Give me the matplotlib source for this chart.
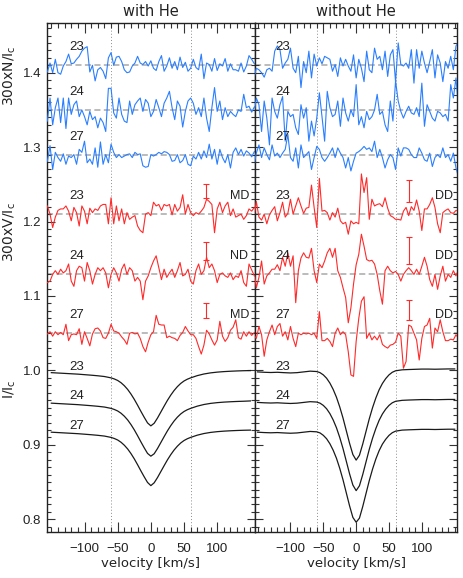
import numpy as np
import matplotlib
matplotlib.use("Agg")
import matplotlib.pyplot as plt
from matplotlib.ticker import FixedLocator, MultipleLocator, FormatStrFormatter

plt.rcParams['mathtext.default'] = 'regular'

# ---------------- data ----------------
# velocity grid of the Stokes N / V profiles [km/s]
vel = np.arange(-156, 157, 4)

# 300xN/Ic profiles (units of 1e-3), shifted by offsets below
n23_with = [-9,3,-10,8,-10,-12,-1,5,15,2, 3,8,12,19,23,25,-9,0,-21,-6, -3,-8,-18,10,17,0,11,12,5,-6,
            -10,-9,-1,3,12,3,1,5,-1,6, -4,-7,5,13,-8,-1,10,-4,5,-6, 11,-3,4,-8,-4,8,-3,-6,15,-18,
            3,1,-8,9,-7,2,-1,9,-8,2, -6,-6,-8,3,-9,-1,13,8,2]
n24_with = [-15,16,-20,3,16,-17,16,-25,16,-6, 7,12,-9,0,-9,-20,-2,-13,-9,-24, -11,-17,-29,29,29,-4,-11,16,-6,-15,
            -17,12,-6,7,12,16,-2,14,9,-9, -2,14,3,-9,9,16,25,3,-13,12, 5,-23,-2,12,16,9,-6,3,-9,16,
            -11,-29,3,30,-2,12,-13,3,-9,-2, -6,-9,0,-2,21,3,5,-3,4]
n27_with = [-9,12,-20,3,-4,-9,1,-13,-2,-4, 0,-13,7,3,18,-11,-6,-13,9,-17, 17,-13,0,-11,14,3,-4,0,-4,-2,
            0,1,-4,3,0,1,-15,-17,-16,0, -2,0,3,1,4,3,0,-9,-8,0, -11,-8,0,-13,-15,-2,-6,3,-6,5,
            -4,14,-6,7,-13,7,-4,-11,0,-18, 3,9,0,7,-2,5,2,-3,4]
n23_wo = [-19,-4,-6,-10,-16,-6,-4,-8,19,26, 21,-4,3,8,23,-4,-10,12,-30,5, -10,19,-17,15,-1,10,2,12,10,8,
          -8,1,-15,10,-1,8,-1,-8,14,-17, 8,-4,-22,19,-6,-10,23,8,12,-6, 19,-15,14,21,-22,30,1,-1,3,-4,
          21,-24,21,-4,19,3,-10,5,21,-17, 14,3,-22,5,-4,12,-6,26,32]
n24_wo = [-9,16,7,-29,12,-11,-47,16,-2,-11, 7,18,-42,-2,-9,-6,-24,-33,7,-11, 3,-42,-15,-35,-11,23,-9,-42,25,3,
          -9,-6,12,-22,16,-4,-15,0,-9,34, -20,-9,-24,-2,-13,-9,0,21,-6,-2, -20,-29,12,-15,39,12,-2,-11,-2,5,
          -4,-6,3,-9,36,-22,7,-2,-11,-15, -2,-4,-9,-6,-15,34,16,43,0]
n27_wo = [-18,2,13,-4,9,0,-7,13,-2,2, -4,2,7,27,-4,-9,9,-18,13,-4, 0,4,-20,-4,11,7,-4,-9,-4,2,
          9,-4,9,2,-4,-18,-4,-22,-9,2, 4,7,11,7,9,4,18,-4,7,-4, -18,-7,0,-4,-20,9,-2,9,9,7,
          0,-4,-4,9,2,-7,-9,2,-16,-4, 0,-4,9,-4,0,-9,2,-18,-31]

# 300xV/Ic profiles (units of 1e-3)
v23_with = [11,0,-18,-4,5,7,7,11,4,-9, 9,2,-16,11,4,-13,8,2,7,5, 11,13,13,-13,22,-13,11,-9,7,-13,
            2,-7,-4,-2,-16,-22,-25,0,2,-2, 16,11,13,5,13,11,13,-1,13,4, 9,26,0,13,2,-2,2,0,4,9,
            20,17,13,-25,7,16,2,11,16,-2, 7,-4,-2,0,-7,-2,7,4,9]
v24_with = [-12,-10,-1,4,-1,6,1,4,13,-10, -17,4,10,8,-10,15,4,-14,-1,8, 4,8,1,-19,-1,8,1,-10,6,13,
            -1,8,4,-10,-5,-10,-35,-10,-3,8, 17,24,8,-8,6,-5,1,6,-5,4, 15,-3,-1,6,-10,-14,4,13,-1,4,
            22,8,13,4,-12,-1,1,-3,-5,1, -8,-3,-5,4,-12,-17,13,5,-3]
v27_with = [-1,2,-4,2,-2,1,-2,12,-10,-2, -1,-2,6,-15,2,-7,-17,-1,6,7, 3,-6,-7,0,12,3,2,0,-5,-9,
            -15,0,1,-1,0,-7,-18,-25,-12,-2, 2,24,12,11,11,-6,-4,-6,-7,-10, -3,1,9,3,-2,-2,-7,-18,-28,-16,
            4,-1,-9,-16,-9,16,-4,-11,-6,4, 8,18,-6,-8,2,-4,2,-3,1]
v23_wo = [-7,17,-4,-8,0,-13,-1,5,10,-9, 2,16,-4,1,20,0,11,22,11,1, 8,9,39,9,-18,48,4,5,2,-8,
          2,-4,8,-9,-13,-11,-27,-9,-13,-11, -13,54,29,49,-7,20,11,13,14,10, 22,8,-2,-4,-7,-7,-8,4,9,-2,
          10,5,19,4,-22,7,7,13,22,9, -13,-25,2,5,7,2,1,5,4]
v24_wo = [8,-19,-5,17,-14,-3,1,6,6,12, 4,22,10,28,10,24,-39,4,21,28, 22,21,34,4,-12,13,8,17,28,34,
          22,34,4,-5,-19,-32,-66,-46,-14,12, 26,53,37,19,17,18,13,-1,-23,-41, 4,10,4,1,3,-1,-10,-1,4,8,
          4,-1,6,-1,10,22,10,-8,-17,-1, -21,-3,10,-10,-1,-5,4,-3,6]
v27_wo = [-2,-7,9,-2,-31,-9,2,11,-2,9, 13,-4,2,-9,9,-7,-18,0,-2,0, -1,0,-2,0,-7,29,-10,-10,-7,-11,
          -18,0,7,-2,2,-2,-25,-56,-58,-11, 20,43,49,-7,0,-9,-4,-9,-2,-15, -18,-20,-16,-15,-12,0,-4,-47,-38,11,
          9,0,-9,-36,-7,9,11,20,-20,7, 2,18,2,-10,-10,-8,-9,-2,-7]

n_offsets = [1.41, 1.35, 1.29]
v_offsets = [1.21, 1.13, 1.05]
epochs = ['23', '24', '27']
flags_with = ['MD', 'ND', 'MD']
flags_wo = ['DD', 'DD', 'DD']

# Stokes I profiles
vel_i = [-150,-140,-130,-120,-110,-100,-90,-80,-70,-60,-55,-50,-45,-40,-35,-30,-25,-20,-15,-10,-5,0,
         5,10,15,20,25,30,35,40,45,50,55,60,70,80,90,100,110,120,130,140,150]
i23_with = [0.9970,0.9965,0.9960,0.9955,0.9950,0.9943,0.9936,0.9928,0.9918,0.9900,0.9885,0.9865,0.9835,
            0.9795,0.9745,0.9683,0.9612,0.9533,0.9450,0.9370,0.9295,0.9255,0.9290,0.9360,0.9440,0.9520,
            0.9598,0.9668,0.9730,0.9782,0.9825,0.9858,0.9882,0.9900,0.9930,0.9952,0.9967,0.9977,0.9984,
            0.9989,0.9993,0.9996,0.9998]
i24_with = [0.9560,0.9555,0.9550,0.9545,0.9540,0.9533,0.9526,0.9518,0.9508,0.9490,0.9475,0.9455,0.9425,
            0.9385,0.9335,0.9273,0.9202,0.9123,0.9040,0.8960,0.8885,0.8848,0.8880,0.8950,0.9030,0.9110,
            0.9188,0.9258,0.9320,0.9372,0.9415,0.9448,0.9472,0.9490,0.9520,0.9542,0.9557,0.9567,0.9574,
            0.9579,0.9583,0.9586,0.9590]
i27_with = [0.9170,0.9165,0.9160,0.9155,0.9150,0.9143,0.9136,0.9128,0.9118,0.9100,0.9085,0.9065,0.9035,
            0.8995,0.8945,0.8883,0.8812,0.8733,0.8650,0.8570,0.8495,0.8452,0.8490,0.8560,0.8640,0.8720,
            0.8798,0.8868,0.8930,0.8982,0.9025,0.9058,0.9082,0.9100,0.9130,0.9152,0.9167,0.9177,0.9184,
            0.9189,0.9193,0.9196,0.9198]
i23_wo = [0.9980,0.9975,0.9972,0.9975,0.9970,0.9966,0.9970,0.9980,0.9990,0.9985,0.9970,0.9940,0.9895,
          0.9830,0.9745,0.9640,0.9510,0.9360,0.9190,0.9020,0.8870,0.8795,0.8860,0.9010,0.9180,0.9350,
          0.9500,0.9630,0.9740,0.9825,0.9890,0.9940,0.9975,0.9995,1.0008,1.0012,1.0015,1.0018,1.0018,
          1.0016,1.0018,1.0020,1.0020]
i24_wo = [0.9570,0.9565,0.9562,0.9565,0.9560,0.9556,0.9560,0.9570,0.9580,0.9575,0.9560,0.9530,0.9485,
          0.9420,0.9335,0.9230,0.9100,0.8950,0.8780,0.8610,0.8460,0.8385,0.8450,0.8600,0.8770,0.8940,
          0.9090,0.9220,0.9330,0.9415,0.9480,0.9530,0.9565,0.9585,0.9598,0.9602,0.9605,0.9608,0.9608,
          0.9606,0.9608,0.9610,0.9610]
i27_wo = [0.9170,0.9165,0.9162,0.9165,0.9160,0.9156,0.9160,0.9170,0.9180,0.9175,0.9160,0.9128,0.9082,
          0.9015,0.8928,0.8820,0.8685,0.8530,0.8355,0.8180,0.8025,0.7960,0.8015,0.8170,0.8345,0.8520,
          0.8675,0.8810,0.8922,0.9010,0.9075,0.9127,0.9163,0.9184,0.9198,0.9202,0.9205,0.9208,0.9208,
          0.9206,0.9208,0.9210,0.9210]
i_label_levels = [1.000, 0.960, 0.920]

# error bars on V (x position, half-length)
eb_x_with, eb_x_wo = 83, 80
eb_half_with = [0.010, 0.012, 0.010]
eb_half_wo = [0.0145, 0.018, 0.0135]
eb_shift = 0.031

panels = [
    dict(title='with He', N=[n23_with, n24_with, n27_with], V=[v23_with, v24_with, v27_with],
         I=[i23_with, i24_with, i27_with], flags=flags_with, ebx=eb_x_with, ebh=eb_half_with,
         xlim=(-157, 157), px=(46.7, 255.0)),
    dict(title='without He', N=[n23_wo, n24_wo, n27_wo], V=[v23_wo, v24_wo, v27_wo],
         I=[i23_wo, i24_wo, i27_wo], flags=flags_wo, ebx=eb_x_wo, ebh=eb_half_wo,
         xlim=(-154, 154), px=(255.0, 457.3)),
]

# ---------------- figure ----------------
W, H = 463, 578
top_px, bot_px = 22.7, 531.7
fig = plt.figure(figsize=(W / 100, H / 100), dpi=100)
fig.patch.set_facecolor('white')

blue = '#2a7fff'
red = '#ff2a2a'
black = '#1a1a1a'
txt = '#222222'
numfont = 'Liberation Sans'
wordfont = 'DejaVu Sans'

for k, p in enumerate(panels):
    x0, x1 = p['px']
    ax = fig.add_axes([x0 / W, 1 - bot_px / H, (x1 - x0) / W, (bot_px - top_px) / H])
    ax.set_xlim(*p['xlim'])
    ax.set_ylim(0.7833, 1.4672)

    for xv in (-60, 60):
        ax.axvline(xv, color='#8c8c8c', lw=0.7, ls=(0, (1, 2.2)), zorder=1)
    for off in n_offsets + v_offsets:
        ax.axhline(off, color='#a8a8a8', lw=1.1, ls=(0, (4, 2.2)), zorder=1)

    for prof, off in zip(p['N'], n_offsets):
        ax.plot(vel, off + np.array(prof) * 1e-3, color=blue, lw=0.8, zorder=3)
    for prof, off in zip(p['V'], v_offsets):
        ax.plot(vel, off + np.array(prof) * 1e-3, color=red, lw=0.8, zorder=3)
    for prof in p['I']:
        ax.plot(vel_i, prof, color=black, lw=0.9, zorder=3)

    for j in range(3):
        ax.text(-123, n_offsets[j] + 0.020, epochs[j], fontsize=9.5, family=numfont,
                color=txt, va='baseline', ha='left')
        ax.text(-123, v_offsets[j] + 0.020, epochs[j], fontsize=9.5, family=numfont,
                color=txt, va='baseline', ha='left')
        ax.text(120, v_offsets[j] + 0.020, p['flags'][j], fontsize=9, family=numfont,
                color=txt, va='baseline', ha='left')
        ax.text(-123, i_label_levels[j] + 0.001, epochs[j], fontsize=9.5, family=numfont,
                color=txt, va='baseline', ha='left')
        ax.errorbar([p['ebx']], [v_offsets[j] + eb_shift], yerr=[p['ebh'][j]], fmt='none',
                    ecolor=red, elinewidth=0.8, capsize=2.3, capthick=0.8, zorder=4)

    for s in ax.spines.values():
        s.set_color('#222222')
        s.set_linewidth(1.0)
    ax.xaxis.set_major_locator(FixedLocator([-100, -50, 0, 50, 100]))
    ax.xaxis.set_minor_locator(MultipleLocator(10))
    ax.yaxis.set_major_locator(FixedLocator([0.8, 0.9, 1.0, 1.1, 1.2, 1.3, 1.4]))
    ax.yaxis.set_minor_locator(MultipleLocator(0.01))
    ax.yaxis.set_major_formatter(FormatStrFormatter('%.1f'))
    ax.tick_params(which='both', direction='in', top=True, right=True, color='#333333', width=0.8)
    ax.tick_params(axis='x', which='major', length=7, pad=8)
    ax.tick_params(axis='x', which='minor', length=3.5)
    ax.tick_params(axis='y', which='major', length=5.5, pad=4)
    ax.tick_params(axis='y', which='minor', length=3)
    for lab in ax.get_xticklabels() + ax.get_yticklabels():
        lab.set_fontfamily(numfont)
        lab.set_fontsize(9.5)
        lab.set_color(txt)
    if k == 1:
        ax.tick_params(axis='y', labelleft=False)

    cx = (x0 + x1) / 2 / W
    fig.text(cx, 1 - 15.5 / H, p['title'], ha='center', va='baseline', fontsize=10.5,
             family=wordfont, color=txt)
    fig.text(cx, 1 - 563 / H, 'velocity [km/s]', ha='center', va='center', fontsize=9.5,
             family=wordfont, color=txt)

for label, ypx in [('300xN/I$_c$', 76), ('300xV/I$_c$', 232), ('I/I$_c$', 389)]:
    fig.text(10 / W, 1 - ypx / H, label, rotation=90, ha='center', va='center',
             fontsize=10, family=wordfont, color=txt)

fig.savefig('out.png', dpi=100, facecolor='white')
